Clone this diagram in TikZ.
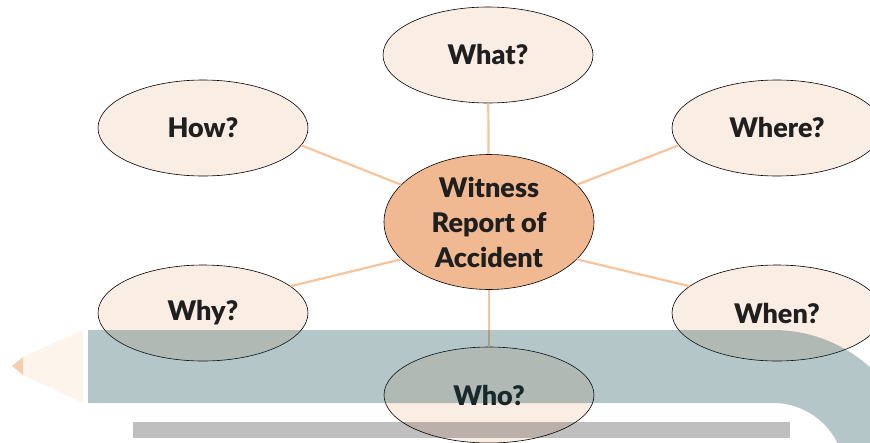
\documentclass[tikz,border=0pt]{standalone}
\usepackage{fontspec}
\setmainfont{Lato}[BoldFont={Lato Black}]
\usetikzlibrary{shapes.geometric}

\definecolor{bubble}{RGB}{250,237,227}
\definecolor{hub}{RGB}{241,185,145}
\definecolor{spoke}{RGB}{249,196,155}
\definecolor{band}{RGB}{10,65,75}
\definecolor{wood}{RGB}{253,244,236}
\definecolor{lead}{RGB}{242,208,175}

\tikzset{
  question/.style={ellipse, draw=black, line width=0.6pt, fill=bubble,
    minimum width=210pt, minimum height=96pt, inner sep=0pt,
    font=\fontsize{27}{30}\selectfont\bfseries, text=black!88},
  spokeline/.style={spoke, line width=2.2pt}
}

\begin{document}
\begin{tikzpicture}[x=1pt, y=-1pt]
            \useasboundingbox (0,0) rectangle (870,442);

            \node[question] (what) at (488,55) {What?};
            \node[question] (how) at (203,128) {How?};
            \node[question] (where) at (777,128) {Where?};
            \node[question] (why) at (203,313) {Why?};
            \node[question] (when) at (777,313) {When?};
            \node[question] (who) at (489,395) {Who?};
            \node[question, fill=hub, minimum height=135pt, align=center,
              font=\fontsize{27}{35}\selectfont\bfseries] (hub) at (489,222)
              {Witness\\Report of\\Accident};

            \draw[spokeline] (hub) -- (what);
            \draw[spokeline] (hub) -- (who);
            \draw[spokeline] (hub.157) -- (how.-10);
            \draw[spokeline] (hub.23) -- (where.190);
            \draw[spokeline] (hub.203) -- (why.17);
            \draw[spokeline] (hub.-23) -- (when.163);

            % band over the picture
            \fill[band, opacity=0.3] (88,330) -- (773,330)
              arc[start angle=-90, end angle=0, radius=145] -- (918,480)
              -- (845,480) -- (845,475)
              arc[start angle=0, end angle=-90, radius=72] -- (88,403) -- cycle;
            \fill[wood] (23,357) -- (83,330) -- (83,403) -- (23,375) -- cycle;
            \fill[lead] (12,366) -- (23,357) -- (23,375) -- cycle;
            \fill[black, opacity=0.25] (133,422) rectangle (790,438);
        \end{tikzpicture}
\end{document}
